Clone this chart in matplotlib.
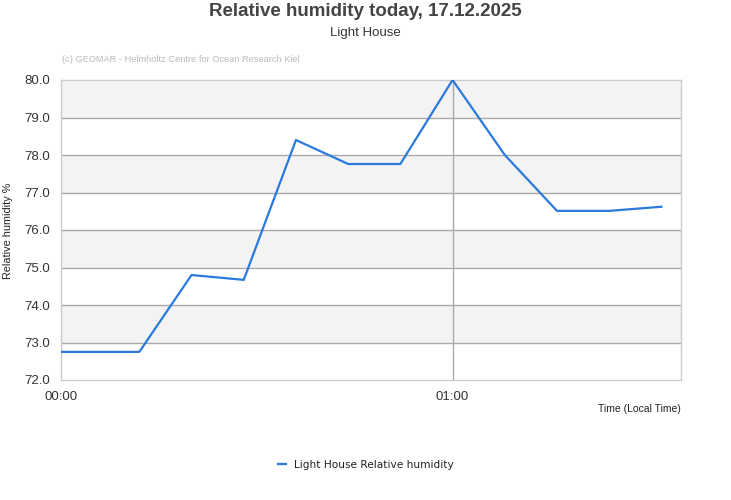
import matplotlib
matplotlib.use('Agg')
import matplotlib.pyplot as plt

# minutes after midnight and humidity values
minutes = [0, 12, 20, 28, 36, 44, 52, 60, 68, 76, 84, 92]
humidity = [72.75, 72.75, 74.8, 74.67, 78.4, 77.76, 77.76, 80.0, 78.0, 76.51, 76.51, 76.62]
x_ticks = [0, 60]
x_labels = ['00:00', '01:00']
y_ticks = [72, 73, 74, 75, 76, 77, 78, 79, 80]

plt.rcParams['font.family'] = ['Liberation Sans', 'DejaVu Sans']

fig = plt.figure(figsize=(7.31, 5), dpi=100)
ax = fig.add_axes([61/731, 1 - 380/500, 620/731, 300/500])

# alternating bands
for lo in [73, 75, 77, 79]:
    ax.axhspan(lo, lo + 1, color='#f3f3f3', zorder=0, lw=0)
for y in y_ticks[1:-1]:
    ax.axhline(y, color='#aaaaaa', lw=1, zorder=1)
ax.axvline(60, color='#aaaaaa', lw=1, zorder=1)

ax.plot(minutes, humidity, color='#2a7ade', lw=1.6, zorder=3,
        label='Light House Relative humidity')

ax.set_xlim(0, 95)
ax.set_ylim(72, 80)
ax.set_yticks(y_ticks)
ax.set_yticklabels(['%.1f' % v for v in y_ticks], fontsize=9.5, color='#333333')
ax.set_xticks(x_ticks)
ax.set_xticklabels(x_labels, fontsize=9.5, color='#333333')
ax.tick_params(axis='y', length=0, pad=8)
ax.tick_params(axis='x', length=0, pad=8)
for s in ax.spines.values():
    s.set_color('#cccccc')
    s.set_linewidth(1)

fig.text(8/731, 1 - 231/500, 'Relative humidity %', fontsize=7.8, color='#222222',
         rotation=90, ha='center', va='center')
fig.text(681/731, 1 - 409/500, 'Time (Local Time)', fontsize=7.5, color='#222222',
         ha='right', va='center')

fig.text(0.5, 1 - 12/500, 'Relative humidity today, 17.12.2025', fontsize=13.5,
         fontweight='bold', color='#444444', ha='center', va='center')
fig.text(0.5, 1 - 33/500, 'Light House', fontsize=9.5, color='#333333',
         ha='center', va='center')
fig.text(62/731, 1 - 60/500, '(c) GEOMAR - Helmholtz Centre for Ocean Research Kiel',
         fontsize=6.7, color='#bbbbbb', ha='left', va='center')

leg = fig.legend(loc='center', bbox_to_anchor=(0.5, 1 - 465/500), frameon=False,
                 handlelength=0.8, handletextpad=0.7,
                 prop={'family': 'DejaVu Sans', 'size': 7.6})
for t in leg.get_texts():
    t.set_color('#222222')

fig.savefig('out.png', dpi=100)
